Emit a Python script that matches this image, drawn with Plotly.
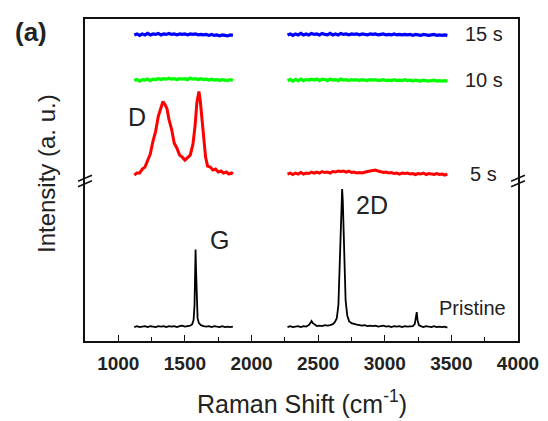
import plotly.graph_objects as go

# ---------------- data ----------------
# Pristine, low-wavenumber window (D/G region)
pr1_x = [1120, 1140, 1160, 1180, 1200, 1220, 1240, 1260, 1280, 1300, 1320, 1340, 1360, 1380, 1400,
         1420, 1440, 1460, 1480, 1500, 1520, 1540, 1555, 1565, 1572, 1577, 1580, 1583, 1588, 1595,
         1605, 1620, 1640, 1660, 1680, 1700, 1720, 1740, 1760, 1780, 1800, 1820, 1840, 1860]
pr1_y = [14, 15, 14, 14.5, 15, 14, 15, 14.5, 14, 15, 14.5, 15, 14, 15, 14.5,
         15, 14, 15, 15.5, 14.5, 15, 15.5, 17, 21, 36, 72, 92, 74, 39, 23,
         18, 16, 15, 14.5, 15, 14, 15, 14.5, 14, 15, 14, 14.5, 14, 14.5]
# Pristine, high-wavenumber window (2D region)
pr2_x = [2270, 2290, 2310, 2330, 2350, 2370, 2390, 2410, 2430, 2442, 2450, 2460, 2475, 2490,
         2510, 2530, 2550, 2570, 2590, 2610, 2625, 2640, 2652, 2662, 2670, 2676, 2680, 2685,
         2690, 2697, 2706, 2718, 2732, 2750, 2770, 2790, 2810, 2830, 2850, 2870, 2890, 2910,
         2930, 2950, 2970, 2990, 3010, 3030, 3050, 3070, 3090, 3110, 3130, 3150, 3170, 3190,
         3210, 3225, 3234, 3240, 3246, 3256, 3270, 3290, 3310, 3330, 3350, 3370, 3390, 3410,
         3430, 3450, 3470]
pr2_y = [14, 15, 14, 14.5, 15, 14, 15, 14.5, 16, 18, 20, 18, 16, 15,
         15.5, 15, 16, 15.5, 16, 17, 19, 23, 36, 76, 126, 149, 153, 141,
         111, 71, 41, 26, 20, 18, 17, 16.5, 16, 15.5, 16, 15, 15.5, 15,
         15.5, 14.5, 15, 15.5, 14.5, 15, 14, 15, 14.5, 15, 14, 15, 14.5, 15,
         15, 17, 23, 29, 21, 16, 15, 14, 15, 14.5, 14, 15, 14, 14.5,
         14, 14.5, 13.5]

# 5 s, low-wavenumber window
r1_x = [1120, 1140, 1160, 1180, 1200, 1220, 1240, 1260, 1280, 1300, 1320, 1335, 1350, 1365, 1380,
        1400, 1420, 1440, 1460, 1480, 1500, 1520, 1540, 1560, 1575, 1590, 1605, 1615, 1625, 1640,
        1655, 1670, 1690, 1710, 1730, 1750, 1770, 1790, 1810, 1830, 1850, 1860]
r1_y = [167, 169, 169, 173, 175, 181, 188, 201, 211, 226, 235, 241, 238, 234, 223,
        213, 199, 194, 187, 185, 182, 185, 187, 198, 215, 240, 251, 242, 228, 203,
        185, 176, 175, 172, 173, 170, 171, 169, 170, 168, 169, 168]
# 5 s, high-wavenumber window
r2_x = [2270, 2290, 2310, 2330, 2350, 2370, 2390, 2410, 2430, 2450, 2470, 2490, 2510, 2530, 2550,
        2570, 2590, 2610, 2630, 2650, 2670, 2690, 2710, 2730, 2750, 2770, 2790, 2810, 2830, 2850,
        2870, 2890, 2910, 2930, 2950, 2970, 2990, 3010, 3030, 3050, 3070, 3090, 3110, 3130, 3150,
        3170, 3190, 3210, 3230, 3250, 3270, 3290, 3310, 3330, 3350, 3370, 3390, 3410, 3430, 3450,
        3470]
r2_y = [168, 169, 167.5, 169, 168, 169.5, 168, 169, 168.5, 170, 169, 170, 169, 170.5, 169.5,
        170, 169, 170.5, 170, 171, 170.5, 171, 170, 171, 169.5, 170, 169, 169.5, 169, 170,
        170.5, 171, 171.5, 172, 171, 170.5, 169.5, 170, 169, 169.5, 168.5, 169, 168, 169, 168.5,
        169, 168, 168.5, 167.5, 168.5, 168, 169, 167.5, 168.5, 168, 167.5, 168.5, 167.5, 168, 167,
        168]

# 10 s
g1_x = [1120, 1140, 1160, 1180, 1200, 1220, 1240, 1260, 1280, 1300, 1320, 1340, 1360, 1380, 1400,
        1420, 1440, 1460, 1480, 1500, 1520, 1540, 1560, 1580, 1600, 1620, 1640, 1660, 1680, 1700,
        1720, 1740, 1760, 1780, 1800, 1820, 1840, 1860]
g1_y = [262, 263, 261.5, 263, 262.5, 263.5, 262, 263.5, 263, 264, 263, 264, 263.5, 264.5, 263.5,
        264, 263, 264, 263.5, 264, 263, 264.5, 263.5, 264, 263, 264, 263, 263.5, 262.5, 263.5,
        262.5, 263, 262, 263, 262.5, 262, 263, 262]
g2_x = r2_x
g2_y = [262, 263, 261.5, 263, 262, 263.5, 262, 263, 262.5, 263.5, 262.5, 263.5, 262, 263.5, 263,
        262, 263.5, 262.5, 263, 262, 263.5, 262.5, 263, 262, 263, 262.5, 263, 262, 263, 262.5,
        262, 263, 262.5, 263, 262, 262.5, 263, 262, 262.5, 262, 263, 262, 262.5, 262, 263,
        262, 262.5, 261.5, 262.5, 262, 261.5, 262.5, 262, 261.5, 262, 262.5, 261.5, 262, 261.5, 262,
        261.5]

# 15 s
b1_x = g1_x
b1_y = [308, 309, 307.5, 309, 308, 309.5, 308, 309, 308.5, 309.5, 308, 309, 308.5, 309.5, 308.5,
        309, 308, 309, 308.5, 309, 308, 309, 308.5, 309, 308, 308.5, 308, 308.5, 307.5, 308.5,
        307.5, 308, 307, 308, 307.5, 307, 308, 307.5]
b2_x = r2_x
b2_y = [308, 309, 307.5, 309, 308, 309.5, 308, 309, 308, 309.5, 308.5, 309, 308, 309.5, 308.5,
        308, 309.5, 308, 309, 308, 309.5, 308.5, 309, 308, 309, 308.5, 309, 308, 309, 308.5,
        308, 309, 308.5, 309, 308, 308.5, 309, 308, 308.5, 308, 309, 308, 308.5, 308, 308.5,
        308, 308.5, 307.5, 308.5, 308, 307.5, 308.5, 308, 307.5, 308, 308.5, 307.5, 308, 307.5, 308,
        307.5]

series_names = ["Pristine", "5 s", "10 s", "15 s"]
series_colors = ["#000000", "#ff0000", "#00ff00", "#0000ff"]
label_x = [3662, 3740, 3748, 3748]
label_y = [33, 168, 263, 309]
peak_labels = ["D", "G", "2D"]
peak_label_x = [1140, 1759, 2902]
peak_label_y = [225, 102, 137]
x_tickvals = [1000, 1500, 2000, 2500, 3000, 3500, 4000]

# ---------------- figure ----------------
def joined(xa, ya, xb, yb):
    return xa + [None] + xb, ya + [None] + yb

all_series = [
    joined(pr1_x, pr1_y, pr2_x, pr2_y),
    joined(r1_x, r1_y, r2_x, r2_y),
    joined(g1_x, g1_y, g2_x, g2_y),
    joined(b1_x, b1_y, b2_x, b2_y),
]
widths = [1.8, 3.0, 3.2, 3.2]

fig = go.Figure()
for (xs, ys), name, col, w in zip(all_series, series_names, series_colors, widths):
    fig.add_trace(go.Scatter(x=xs, y=ys, mode="lines", name=name,
                             line=dict(color=col, width=w), connectgaps=False,
                             showlegend=False))

FONT = "Liberation Sans, Arial, sans-serif"
TXT = "#222222"

annotations = []
for name, xv, yv in zip(series_names, label_x, label_y):
    annotations.append(dict(x=xv, y=yv, xref="x", yref="y", text=name, showarrow=False,
                            font=dict(family=FONT, size=20, color=TXT),
                            xanchor="center", yanchor="middle"))
for t, xv, yv in zip(peak_labels, peak_label_x, peak_label_y):
    annotations.append(dict(x=xv, y=yv, xref="x", yref="y", text=t, showarrow=False,
                            font=dict(family=FONT, size=25, color=TXT),
                            xanchor="center", yanchor="middle"))
annotations.append(dict(x=-0.1256, y=0.96, xref="paper", yref="paper", text="<b>(a)</b>",
                        showarrow=False, font=dict(family=FONT, size=26, color=TXT),
                        xanchor="center", yanchor="middle"))
annotations.append(dict(x=0.5, y=-0.19, xref="paper", yref="paper",
                        text="Raman Shift (cm<sup>-1</sup>)", showarrow=False,
                        font=dict(family=FONT, size=25, color=TXT),
                        xanchor="center", yanchor="middle"))
annotations.append(dict(x=-0.089, y=0.52, xref="paper", yref="paper",
                        text="Intensity (a. u.)", showarrow=False, textangle=-90,
                        font=dict(family=FONT, size=24, color=TXT),
                        xanchor="center", yanchor="middle"))

# axis-break marks
px = 1 / 438.0
py = 1 / 324.0
ybreak = 0.497
shapes = []
for xb in (0.0, 1.0):
    for off in (-2.8, 2.8):
        shapes.append(dict(type="line", xref="paper", yref="paper",
                           x0=xb - 7 * px, y0=ybreak + (off - 3) * py,
                           x1=xb + 7 * px, y1=ybreak + (off + 3) * py,
                           line=dict(color="#111111", width=1.6)))

fig.update_layout(
    width=540, height=413,
    margin=dict(l=77, r=25, t=9, b=80, pad=0),
    paper_bgcolor="white", plot_bgcolor="white",
    annotations=annotations, shapes=shapes,
    xaxis=dict(range=[750, 4000], tickvals=x_tickvals,
               ticktext=["<b>%d</b>" % v for v in x_tickvals],
               ticks="inside", ticklen=6, tickwidth=1.3, tickcolor="#111111",
               ticklabelstandoff=4,
               minor=dict(dtick=250, tick0=750, ticks="inside", ticklen=4,
                          tickcolor="#111111", tickwidth=1.2),
               showline=True, linecolor="#111111", linewidth=1.8, mirror=True,
               showgrid=False, zeroline=False,
               tickfont=dict(family=FONT, size=19, color=TXT)),
    yaxis=dict(range=[0, 324], showticklabels=False, ticks="",
               showline=True, linecolor="#111111", linewidth=1.8, mirror=True,
               showgrid=False, zeroline=False),
)

fig.write_html("out.html")
